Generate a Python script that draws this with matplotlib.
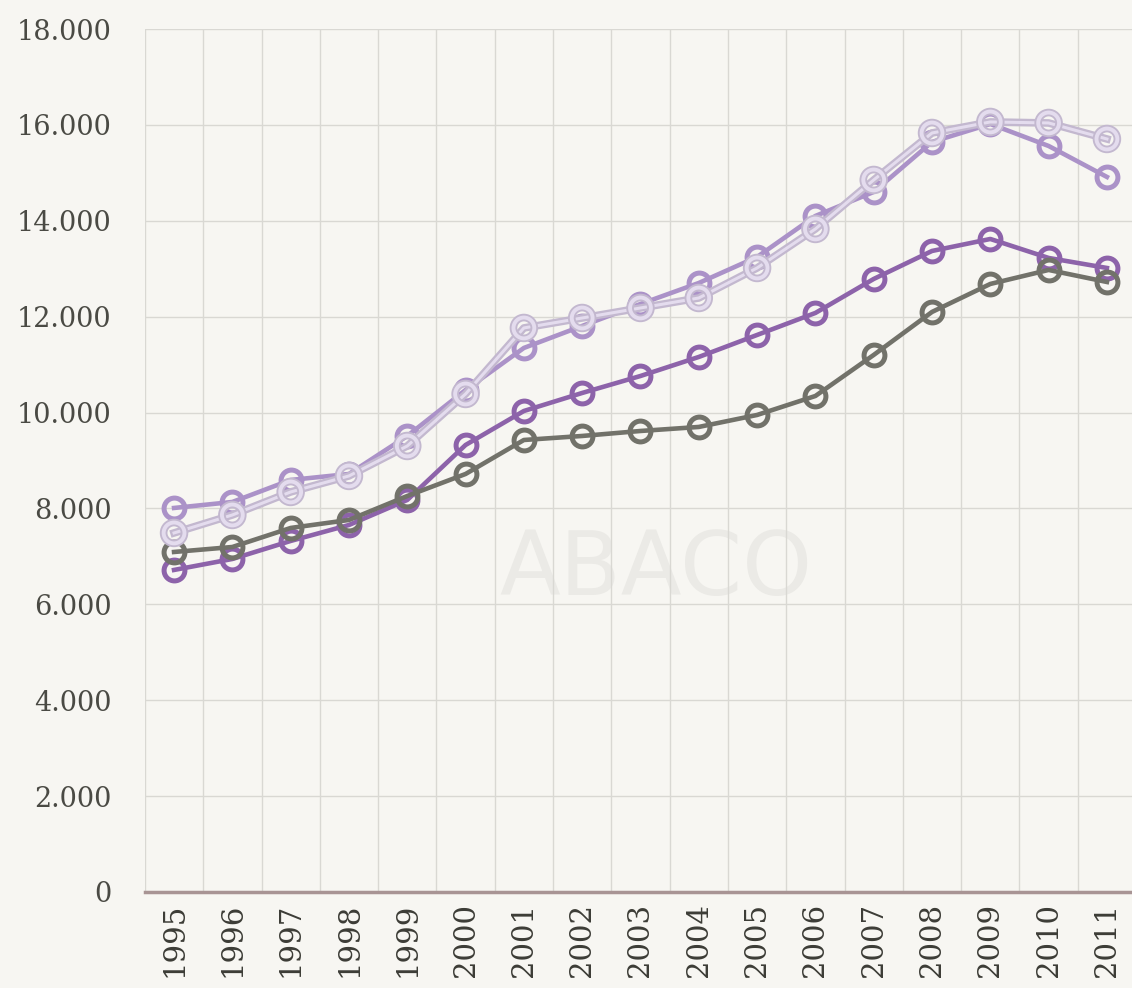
import matplotlib.pyplot as plt
import matplotlib.patheffects as pe
from matplotlib.ticker import FuncFormatter, FixedLocator
import numpy as np

# Chart data
YEARS = [str(y) for y in range(1995, 2012)]

SERIES_LILAC = [8010, 8135, 8594, 8719, 9512, 10471, 11348, 11807, 12265, 12703,
                13246, 14101, 14602, 15645, 16020, 15561, 14915]
SERIES_LAVENDER = [7489, 7864, 8344, 8678, 9303, 10388, 11765, 11973, 12182, 12390,
                   13016, 13830, 14852, 15832, 16062, 16041, 15707]
SERIES_PURPLE = [6717, 6946, 7322, 7655, 8177, 9324, 10033, 10409, 10763, 11160,
                 11619, 12078, 12787, 13371, 13621, 13225, 13016]
SERIES_GRAY = [7092, 7196, 7593, 7760, 8260, 8719, 9428, 9512, 9616, 9700,
               9950, 10346, 11202, 12099, 12683, 12975, 12724]

Y_TICKS = [0, 2000, 4000, 6000, 8000, 10000, 12000, 14000, 16000, 18000]

BG = "#f7f6f2"
GRID = "#d9d8d3"
SERIF = ["DejaVu Serif"]

fig = plt.figure(figsize=(11.32, 9.88), dpi=100, facecolor=BG)
ax = fig.add_axes([0.128, 0.0972, 0.872, 0.8734], facecolor=BG)

x = np.arange(len(YEARS))

# watermark
ax.text(0.518, 0.372, "ABACO", transform=ax.transAxes, ha="center", va="center",
        fontsize=64, color="#ebeae6", family="DejaVu Sans", fontweight="normal",
        zorder=0.5)

common = dict(marker="o", markersize=15, markerfacecolor="none",
              markeredgewidth=3.6, linewidth=3.3)

ax.plot(x, SERIES_PURPLE, color="#8d63aa", zorder=3, **common)
ax.plot(x, SERIES_GRAY, color="#72726a", zorder=4, **common)
ax.plot(x, SERIES_LILAC, color="#ab92c8", zorder=5, **common)
ax.plot(x, SERIES_LAVENDER, color="#e4dcee", zorder=6,
        path_effects=[pe.Stroke(linewidth=5.5, foreground="#c3b8cf"), pe.Normal()],
        marker="o", markersize=15, markerfacecolor="none",
        markeredgewidth=2.8, linewidth=2.2)

ax.set_xlim(-0.5, 16.43)
ax.set_ylim(0, 18000)

ax.set_xticks(x)
ax.set_xticklabels(YEARS, rotation=90, fontsize=21, family=SERIF, color="#3c3c36")
ax.set_yticks(Y_TICKS)
ax.yaxis.set_major_formatter(FuncFormatter(lambda v, p: f"{int(v):,}".replace(",", ".")))
for lbl in ax.get_yticklabels():
    lbl.set_family(SERIF)
    lbl.set_fontsize(19.5)
    lbl.set_color("#4a4a44")
ax.tick_params(length=0)
ax.tick_params(axis="y", pad=24)
ax.tick_params(axis="x", pad=8)

# grid: horizontal at ticks, vertical between categories
for v in Y_TICKS:
    ax.axhline(v, color=GRID, linewidth=1, zorder=1)
ax.xaxis.set_minor_locator(FixedLocator(np.arange(-0.5, 17, 1)))
ax.tick_params(axis="x", which="minor", length=0)
ax.grid(True, axis="x", which="minor", color=GRID, linewidth=1, zorder=1)

for s in ["top", "right", "left"]:
    ax.spines[s].set_visible(False)
ax.spines["bottom"].set_color("#a89494")
ax.spines["bottom"].set_linewidth(2.5)
ax.spines["bottom"].set_zorder(7)

fig.savefig("out.png", dpi=100, facecolor=BG)
